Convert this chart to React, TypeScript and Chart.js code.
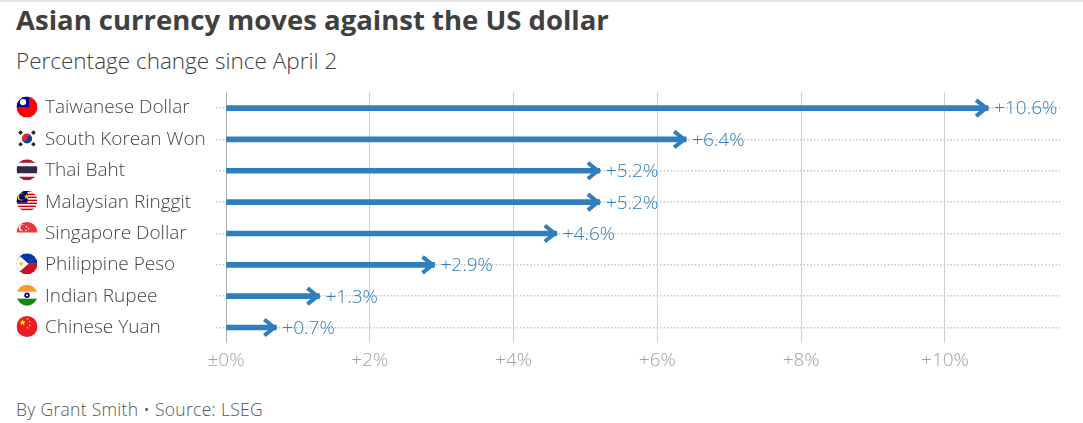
import React, { useEffect, useRef } from "react";
import { Chart, registerables } from "chart.js";

Chart.register(...registerables);

const FONT = "'Open Sans', 'Noto Sans', sans-serif";
const BLUE = "#2f7ebf";

const currencies = [
  "Taiwanese Dollar",
  "South Korean Won",
  "Thai Baht",
  "Malaysian Ringgit",
  "Singapore Dollar",
  "Philippine Peso",
  "Indian Rupee",
  "Chinese Yuan",
];
const flagCodes = ["tw", "kr", "th", "my", "sg", "ph", "in", "cn"];
const changes = [10.6, 6.4, 5.2, 5.2, 4.6, 2.9, 1.3, 0.7];
const xTicks = [0, 2, 4, 6, 8, 10];
const xMin = 0;
const xMax = 11.6;

function fmtTick(v: number) {
  return v === 0 ? "±0%" : "+" + v + "%";
}
function fmtVal(v: number) {
  return "+" + v.toFixed(1) + "%";
}

function star(ctx: CanvasRenderingContext2D, x: number, y: number, R: number, color: string) {
  ctx.beginPath();
  for (let i = 0; i < 10; i++) {
    const rr = i % 2 === 0 ? R : R * 0.4;
    const a = -Math.PI / 2 + (i * Math.PI) / 5;
    const px = x + rr * Math.cos(a);
    const py = y + rr * Math.sin(a);
    if (i === 0) ctx.moveTo(px, py);
    else ctx.lineTo(px, py);
  }
  ctx.closePath();
  ctx.fillStyle = color;
  ctx.fill();
}

function stripes(ctx: CanvasRenderingContext2D, cx: number, cy: number, r: number, cols: string[], weights: number[]) {
  const total = weights.reduce((a, b) => a + b, 0);
  let y = cy - r;
  for (let i = 0; i < cols.length; i++) {
    const h = (weights[i] / total) * 2 * r;
    ctx.fillStyle = cols[i];
    ctx.fillRect(cx - r, y, 2 * r, h + 0.5);
    y += h;
  }
}

function drawFlag(ctx: CanvasRenderingContext2D, code: string, cx: number, cy: number, r: number) {
  ctx.save();
  ctx.beginPath();
  ctx.arc(cx, cy, r, 0, Math.PI * 2);
  ctx.clip();
  if (code === "tw") {
    ctx.fillStyle = "#fe0000";
    ctx.fillRect(cx - r, cy - r, 2 * r, 2 * r);
    ctx.fillStyle = "#000095";
    ctx.fillRect(cx - r, cy - r, r * 1.2, r * 1.0);
    ctx.beginPath();
    ctx.arc(cx - r * 0.38, cy - r * 0.48, r * 0.3, 0, Math.PI * 2);
    ctx.fillStyle = "#ffffff";
    ctx.fill();
  } else if (code === "kr") {
    ctx.fillStyle = "#ffffff";
    ctx.fillRect(cx - r, cy - r, 2 * r, 2 * r);
    const R = r * 0.48;
    ctx.beginPath();
    ctx.arc(cx, cy, R, Math.PI, 0);
    ctx.fillStyle = "#cd2e3a";
    ctx.fill();
    ctx.beginPath();
    ctx.arc(cx, cy, R, 0, Math.PI);
    ctx.fillStyle = "#0047a0";
    ctx.fill();
    ctx.beginPath();
    ctx.arc(cx - R / 2, cy, R / 2, 0, Math.PI * 2);
    ctx.fillStyle = "#cd2e3a";
    ctx.fill();
    ctx.beginPath();
    ctx.arc(cx + R / 2, cy, R / 2, 0, Math.PI * 2);
    ctx.fillStyle = "#0047a0";
    ctx.fill();
    ctx.fillStyle = "#222222";
    const pts = [
      [-1, -1],
      [1, -1],
      [-1, 1],
      [1, 1],
    ];
    for (const [sx, sy] of pts) {
      ctx.save();
      ctx.translate(cx + sx * r * 0.66, cy + sy * r * 0.6);
      ctx.rotate(sx * sy > 0 ? Math.PI / 4 : -Math.PI / 4);
      ctx.fillRect(-r * 0.22, -r * 0.16, r * 0.44, r * 0.32);
      ctx.restore();
    }
  } else if (code === "th") {
    stripes(ctx, cx, cy, r, ["#a51931", "#f4f5f8", "#2d2a4a", "#f4f5f8", "#a51931"], [1, 1, 2, 1, 1]);
  } else if (code === "my") {
    const cols: string[] = [];
    const w: number[] = [];
    for (let i = 0; i < 14; i++) {
      cols.push(i % 2 === 0 ? "#cc0001" : "#ffffff");
      w.push(1);
    }
    stripes(ctx, cx, cy, r, cols, w);
    ctx.fillStyle = "#010066";
    ctx.fillRect(cx - r, cy - r, r * 1.05, r * 1.15);
    ctx.beginPath();
    ctx.arc(cx - r * 0.55, cy - r * 0.42, r * 0.36, 0, Math.PI * 2);
    ctx.fillStyle = "#ffcc00";
    ctx.fill();
    ctx.beginPath();
    ctx.arc(cx - r * 0.45, cy - r * 0.42, r * 0.3, 0, Math.PI * 2);
    ctx.fillStyle = "#010066";
    ctx.fill();
    star(ctx, cx - r * 0.05, cy - r * 0.42, r * 0.28, "#ffcc00");
  } else if (code === "sg") {
    ctx.fillStyle = "#ffffff";
    ctx.fillRect(cx - r, cy - r, 2 * r, 2 * r);
    ctx.fillStyle = "#ef3340";
    ctx.fillRect(cx - r, cy - r, 2 * r, r);
    ctx.beginPath();
    ctx.arc(cx - r * 0.45, cy - r * 0.45, r * 0.34, 0, Math.PI * 2);
    ctx.fillStyle = "#ffffff";
    ctx.fill();
    ctx.beginPath();
    ctx.arc(cx - r * 0.33, cy - r * 0.45, r * 0.3, 0, Math.PI * 2);
    ctx.fillStyle = "#ef3340";
    ctx.fill();
    star(ctx, cx - r * 0.05, cy - r * 0.55, r * 0.12, "#ffffff");
    star(ctx, cx + r * 0.15, cy - r * 0.35, r * 0.12, "#ffffff");
    star(ctx, cx - r * 0.1, cy - r * 0.2, r * 0.12, "#ffffff");
  } else if (code === "ph") {
    ctx.fillStyle = "#0038a8";
    ctx.fillRect(cx - r, cy - r, 2 * r, r);
    ctx.fillStyle = "#ce1126";
    ctx.fillRect(cx - r, cy, 2 * r, r);
    ctx.beginPath();
    ctx.moveTo(cx - r, cy - r);
    ctx.lineTo(cx + r * 0.15, cy);
    ctx.lineTo(cx - r, cy + r);
    ctx.closePath();
    ctx.fillStyle = "#ffffff";
    ctx.fill();
    star(ctx, cx - r * 0.55, cy, r * 0.3, "#fcd116");
    ctx.beginPath();
    ctx.arc(cx - r * 0.55, cy, r * 0.15, 0, Math.PI * 2);
    ctx.fillStyle = "#fcd116";
    ctx.fill();
  } else if (code === "in") {
    stripes(ctx, cx, cy, r, ["#ff9933", "#ffffff", "#138808"], [1, 1, 1]);
    ctx.beginPath();
    ctx.arc(cx, cy, r * 0.26, 0, Math.PI * 2);
    ctx.fillStyle = "#000080";
    ctx.fill();
    ctx.beginPath();
    ctx.arc(cx, cy, r * 0.1, 0, Math.PI * 2);
    ctx.fillStyle = "#ffffff";
    ctx.fill();
  } else if (code === "cn") {
    ctx.fillStyle = "#ee1c25";
    ctx.fillRect(cx - r, cy - r, 2 * r, 2 * r);
    star(ctx, cx - r * 0.42, cy - r * 0.38, r * 0.32, "#ffff00");
    star(ctx, cx + r * 0.05, cy - r * 0.72, r * 0.11, "#ffff00");
    star(ctx, cx + r * 0.25, cy - r * 0.45, r * 0.11, "#ffff00");
    star(ctx, cx + r * 0.25, cy - r * 0.12, r * 0.11, "#ffff00");
    star(ctx, cx + r * 0.05, cy + r * 0.12, r * 0.11, "#ffff00");
  }
  ctx.restore();
}

const arrowPlugin = {
  id: "arrowHeads",
  afterDatasetsDraw(chart: any) {
    const ctx: CanvasRenderingContext2D = chart.ctx;
    const meta = chart.getDatasetMeta(0);
    ctx.save();
    meta.data.forEach((bar: any, i: number) => {
      const x = bar.x;
      const y = bar.y;
      ctx.beginPath();
      ctx.moveTo(x - 12, y - 8);
      ctx.lineTo(x - 2, y);
      ctx.lineTo(x - 12, y + 8);
      ctx.strokeStyle = BLUE;
      ctx.lineWidth = 4;
      ctx.lineJoin = "miter";
      ctx.lineCap = "butt";
      ctx.stroke();
      ctx.font = `300 19px ${FONT}`;
      ctx.fillStyle = BLUE;
      ctx.textAlign = "left";
      ctx.textBaseline = "middle";
      ctx.fillText(fmtVal(changes[i]), x + 6, y + 1);
    });
    ctx.restore();
  },
};

const flagPlugin = {
  id: "flags",
  afterDraw(chart: any) {
    const ctx: CanvasRenderingContext2D = chart.ctx;
    const yScale = chart.scales.y;
    flagCodes.forEach((code, i) => {
      const y = yScale.getPixelForValue(i);
      drawFlag(ctx, code, yScale.left - 18, y - 1, 10.5);
    });
  },
};

export default function App() {
  const canvasRef = useRef<HTMLCanvasElement | null>(null);

  useEffect(() => {
    document.body.style.margin = "0";
    const canvas = canvasRef.current;
    if (!canvas) return;
    const chart = new Chart(canvas, {
      type: "bar",
      data: {
        labels: currencies,
        datasets: [
          {
            data: changes,
            backgroundColor: BLUE,
            barThickness: 5,
            borderWidth: 0,
          },
        ],
      },
      plugins: [arrowPlugin, flagPlugin],
      options: {
        animation: false,
        responsive: true,
        maintainAspectRatio: false,
        indexAxis: "y",
        layout: { padding: { left: 45, right: 23, top: 5, bottom: 6 } },
        plugins: {
          legend: { display: false },
          tooltip: { enabled: false },
        },
        scales: {
          x: {
            type: "linear",
            min: xMin,
            max: xMax,
            afterBuildTicks: (scale: any) => {
              scale.ticks = xTicks.map((v) => ({ value: v }));
            },
            grid: {
              drawTicks: false,
              color: (c: any) => (c.tick && c.tick.value === 0 ? "#b0b0b0" : "#cfcfcf"),
              lineWidth: 1,
            },
            border: { display: false },
            ticks: {
              padding: 6,
              color: "#a0a0a0",
              font: { family: FONT, size: 19, weight: "300" },
              callback: (v: any) => fmtTick(Number(v)),
            },
          },
          y: {
            type: "category",
            afterFit: (scale: any) => {
              scale.width = 181;
            },
            grid: {
              offset: false,
              color: "#c8c8c8",
              lineWidth: 1.5,
              drawTicks: true,
              tickLength: 10,
              tickColor: "#c8c8c8",
              tickWidth: 1.5,
              tickBorderDash: [1.5, 2],
            },
            border: { display: false, dash: [1.5, 2] },
            ticks: {
              crossAlign: "far",
              color: "#444444",
              font: { family: FONT, size: 19, weight: "300" },
            },
          },
        },
      },
    } as any);
    return () => chart.destroy();
  }, []);

  return (
    <div
      style={{
        position: "absolute",
        left: 0,
        top: 0,
        width: 1083,
        height: 423,
        background: "#ffffff",
        fontFamily: FONT,
        overflow: "hidden",
      }}
    >
      <div style={{ position: "absolute", left: 0, right: 0, top: 0, borderTop: "2px solid #e2e2e2" }} />
      <div
        style={{
          position: "absolute",
          left: 16,
          top: 1,
          fontSize: 27.5,
          fontWeight: 700,
          color: "#404040",
          whiteSpace: "nowrap",
          lineHeight: "38px",
        }}
      >
        Asian currency moves against the US dollar
      </div>
      <div
        style={{
          position: "absolute",
          left: 16,
          top: 45,
          fontSize: 22.5,
          fontWeight: 300,
          color: "#404040",
          whiteSpace: "nowrap",
          lineHeight: "32px",
        }}
      >
        Percentage change since April 2
      </div>
      <div style={{ position: "absolute", left: 0, top: 78, width: 1083, height: 306 }}>
        <canvas ref={canvasRef} />
      </div>
      <div
        style={{
          position: "absolute",
          left: 16,
          top: 397,
          fontSize: 17.5,
          fontWeight: 300,
          color: "#555555",
          whiteSpace: "nowrap",
          lineHeight: "24px",
          letterSpacing: "0.3px",
        }}
      >
        By Grant Smith • Source: LSEG
      </div>
    </div>
  );
}
